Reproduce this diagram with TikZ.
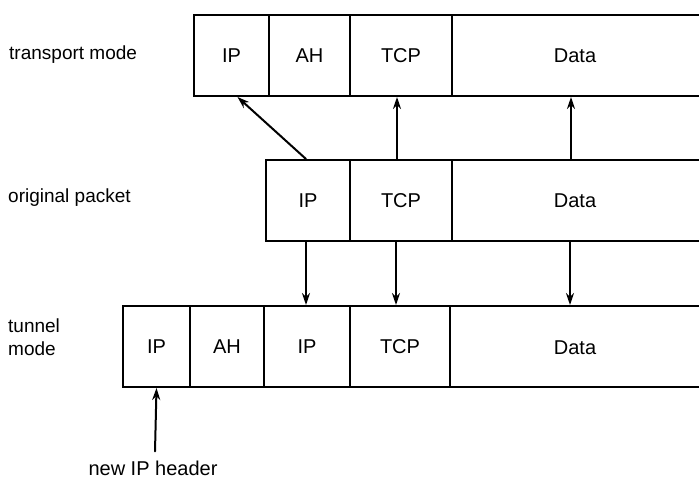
\documentclass[tikz,border=0pt]{standalone}
\usepackage{fontspec}
\setmainfont{Liberation Sans}
\usetikzlibrary{arrows.meta}

\begin{document}
\begin{tikzpicture}[x=1pt,y=-1pt,>={Stealth[length=12pt,width=8pt]},line cap=round,
  font=\fontsize{20}{23}\selectfont,
  cell/.style={draw,line width=2pt,rectangle,anchor=north west,inner sep=0pt,minimum height=81pt},
  lbl/.style={anchor=west,align=left,inner sep=0pt,font=\fontsize{19}{23}\selectfont},
  link/.style={->,line width=2pt}]
\useasboundingbox (0,0) rectangle (699,490);
\clip (0,0) rectangle (699,490);
% transport mode
\node[lbl] (ltrans) at (9,55) {transport mode};
\node[cell,minimum width=75pt] (tIP) at (193,14) {IP};
\node[cell,minimum width=81pt] (tAH) at (268,14) {AH};
\node[cell,minimum width=102pt] (tTCP) at (349,14) {TCP};
\node[cell,minimum width=260pt] (tData) at (451,14) {};
\node (tDatatxt) at (575,56) {Data};
% original packet
\node[lbl] (lorig) at (8,198) {original packet};
\node[cell,minimum width=84pt] (oIP) at (265,159) {IP};
\node[cell,minimum width=102pt] (oTCP) at (349,159) {TCP};
\node[cell,minimum width=260pt] (oData) at (451,159) {};
\node (oDatatxt) at (575,201) {Data};
% tunnel mode
\node[lbl] (ltun) at (8,337) {tunnel\\mode};
\node[cell,minimum width=67pt] (nIP) at (122,305) {IP};
\node[cell,minimum width=74pt] (nAH) at (189,305) {AH};
\node[cell,minimum width=86pt] (nIPb) at (263,305) {IP};
\node[cell,minimum width=100pt] (nTCP) at (349,305) {TCP};
\node[cell,minimum width=262pt] (nData) at (449,305) {};
\node (nDatatxt) at (575,348) {Data};
\node[inner sep=0pt] (newip) at (153,468) {new IP header};
% arrows
\draw[link] ([xshift=-2pt]oIP.north) -- ([xshift=6pt]tIP.south);
\draw[link] ([xshift=-4pt]oTCP.north) -- ([xshift=-4pt]tTCP.south);
\draw[link] ([xshift=-11pt]oData.north) -- ([xshift=-11pt]tData.south);
\draw[link] ([xshift=-2pt]oIP.south) -- ([xshift=-1pt]nIPb.north);
\draw[link] ([xshift=-5pt]oTCP.south) -- ([xshift=-4pt]nTCP.north);
\draw[link] ([xshift=-12pt]oData.south) -- ([xshift=-11pt]nData.north);
\draw[link] ([xshift=2pt,yshift=9pt]newip.north) -- (nIP.south);
\end{tikzpicture}
\end{document}
